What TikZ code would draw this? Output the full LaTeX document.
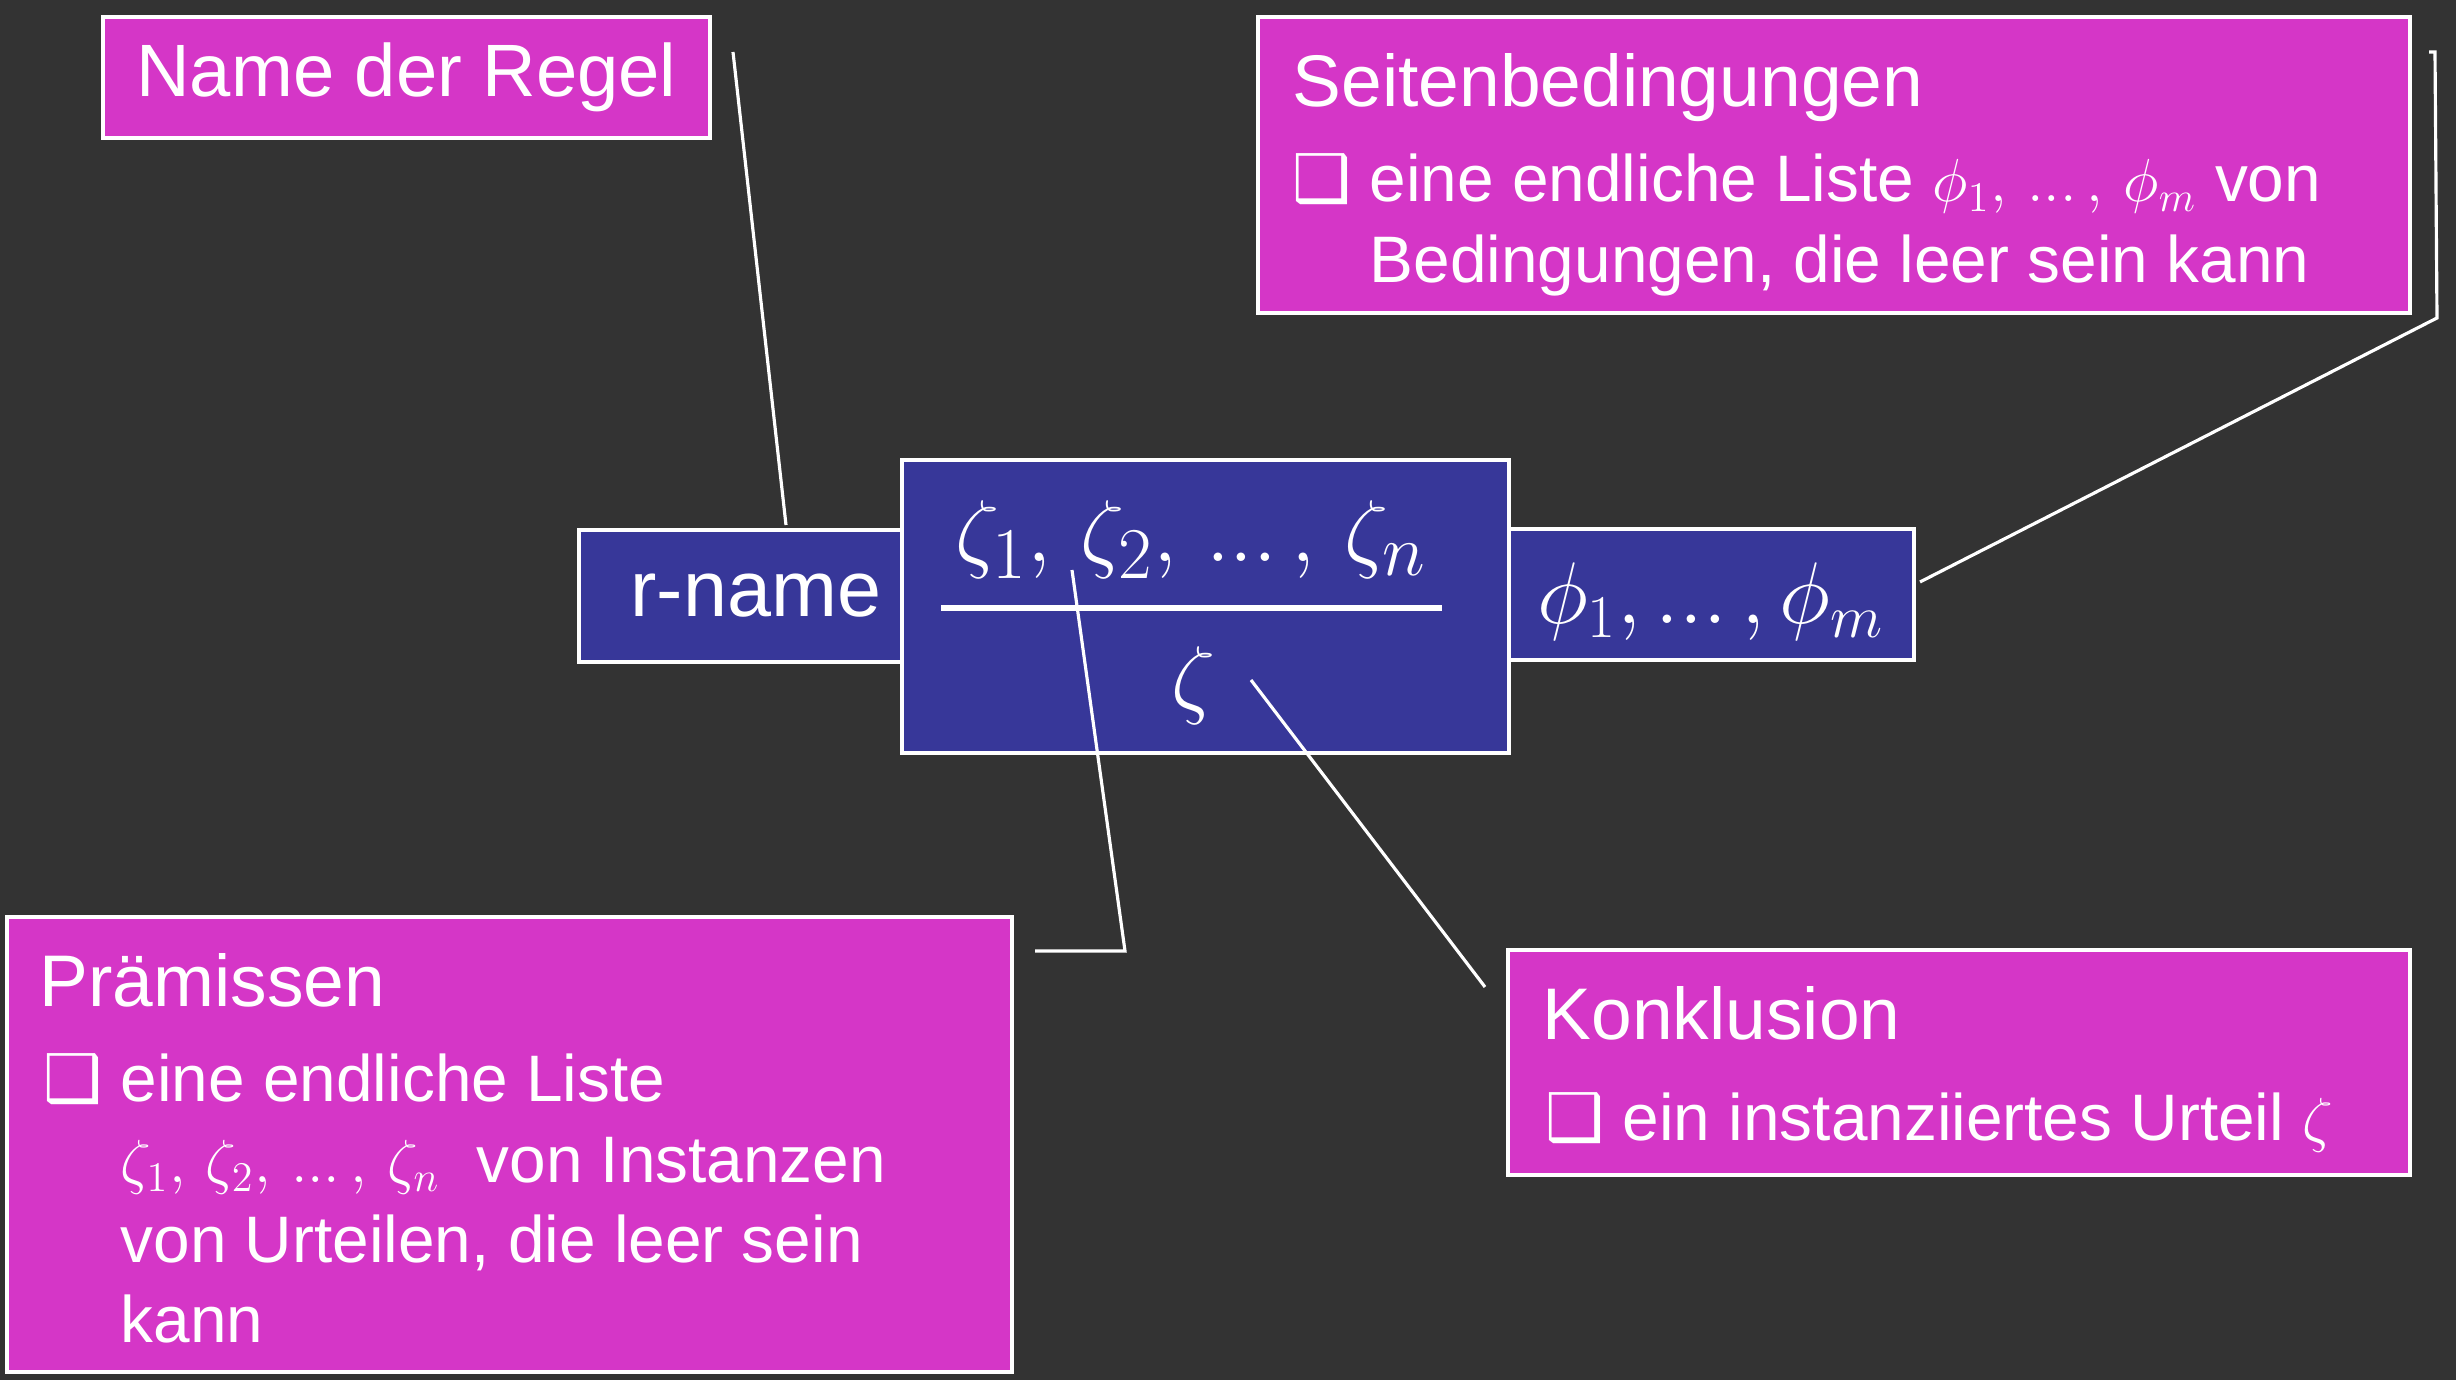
\documentclass[tikz,border=0pt]{standalone}
\usepackage[no-math]{fontspec}
\setmainfont{Liberation Sans}
\newfontfamily\symf{DejaVu Sans}
\usepackage{amsmath}
\usepackage{tikz}
\usetikzlibrary{positioning}
\definecolor{hgrund}{RGB}{51,51,51}
\definecolor{lila}{RGB}{213,54,199}
\definecolor{blau}{RGB}{55,55,153}
\newcommand{\kopf}{\fontsize{20.8}{24}\selectfont}
\newcommand{\fliess}{\fontsize{18.7}{22.8}\selectfont}
\newcommand{\pkte}{\mathinner{{.}{.}{.}}}
\newcommand{\punkt}[1]{\makebox[0.77cm][l]{\symf ❑}\begin{tabular}[t]{@{}l@{}}#1\end{tabular}}

\begin{document}
\begin{tikzpicture}[x=0.01cm,y=-0.01cm,
  every node/.style={text=white},
  infobox/.style={draw=white,line width=1.1pt,fill=lila,inner sep=0pt},
  regelbox/.style={draw=white,line width=1.1pt,fill=blau,inner sep=0pt},
  txt/.style={anchor=base west,inner sep=0pt},
  leader/.style={draw=white,line width=0.9pt}]
  % Hintergrund
  \fill[hgrund] (0,0) rectangle (2456,1380);
  \useasboundingbox (0,0) rectangle (2456,1380);
  % Regel in der Mitte
  \node[regelbox,minimum width=3.23cm,minimum height=1.32cm,text width=2.81cm,align=right,
    font=\fontsize{22.5}{26}\selectfont] (rname) at (740.5,596) {r-name};
  \node[regelbox,minimum width=4.05cm,minimum height=1.31cm] (seitbox) at (1711.5,594.5) {};
  \node[inner sep=0pt,anchor=base,font=\fontsize{23.2}{27}\selectfont] (phis) at (1711,624)
    {$\phi_1,\pkte,\phi_m$};
  \node[regelbox,minimum width=6.07cm,minimum height=2.93cm] (bruch) at (1205.5,606.5) {};
  \node[inner sep=0pt,anchor=base,font=\fontsize{31}{35}\selectfont] (praem) at (1191,562)
    {$\zeta_1,\,\zeta_2,\,\pkte,\,\zeta_n$};
  \node[inner sep=0pt,anchor=base,font=\fontsize{30}{34}\selectfont] (konkl) at (1194,708)
    {$\zeta$};
  \draw[white,line width=1.7pt] (941,608) -- (1442,608);
  % Name der Regel
  \node[infobox,minimum width=6.07cm,minimum height=1.21cm,font=\fontsize{21.1}{24}\selectfont]
    (regel) at (406.5,77.5) {Name der Regel};
  % Seitenbedingungen
  \node[infobox,minimum width=11.52cm,minimum height=2.96cm] (seite) at (1834,165) {};
  \node[txt,font=\kopf] (seitekopf) at (1292,107) {Seitenbedingungen};
  \node[txt,font=\fliess] (seitetext) at (1292,202)
    {\punkt{eine endliche Liste $\phi_1,\,\pkte,\,\phi_m$ von\\Bedingungen, die leer sein kann}};
  % Praemissen
  \node[infobox,minimum width=10.05cm,minimum height=4.55cm] (praemissen) at (509.5,1144.5) {};
  \node[txt,font=\kopf] (praemkopf) at (39,1007) {Prämissen};
  \node[txt,font=\fliess] (praemtext) at (43,1102)
    {\punkt{eine endliche Liste\\$\zeta_1,\,\zeta_2,\,\pkte,\,\zeta_n$\ \ von Instanzen\\von Urteilen, die leer sein\\kann}};
  % Konklusion
  \node[infobox,minimum width=9.02cm,minimum height=2.25cm] (konklusion) at (1959,1062.5) {};
  \node[txt,font=\kopf] (konklkopf) at (1542,1040) {Konklusion};
  \node[txt,font=\fliess] (konkltext) at (1545,1141) {\punkt{ein instanziiertes Urteil $\zeta$}};
  % Verbindungslinien
  \coordinate (l1a) at (733,52);
  \coordinate (l1b) at (786,525);
  \coordinate (l2a) at (1920,582);
  \coordinate (l2b) at (2437,318);
  \coordinate (l2c) at (2435,52);
  \coordinate (l2d) at (2429,52);
  \coordinate (l3a) at (1072,570);
  \coordinate (l3b) at (1125,951);
  \coordinate (l3c) at (1035,951);
  \coordinate (l4a) at (1251,680);
  \coordinate (l4b) at (1485,987);
  \draw[leader] (l1a) -- (l1b);
  \draw[leader] (l2a) -- (l2b) -- (l2c) -- (l2d);
  \draw[leader] (l3a) -- (l3b) -- (l3c);
  \draw[leader] (l4a) -- (l4b);
\end{tikzpicture}
\end{document}
